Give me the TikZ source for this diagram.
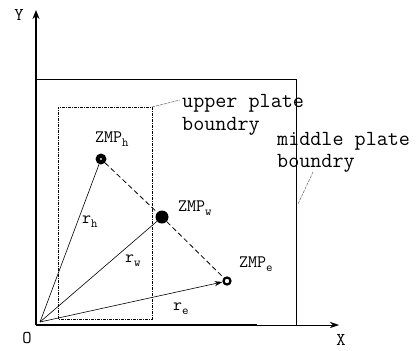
\documentclass[tikz,border=0pt]{standalone}
\usepackage{fontspec}
\usetikzlibrary{arrows.meta}
\newcommand\zsub[1]{\raisebox{-4pt}{\fontsize{12.5}{12.5}\selectfont #1}}
\newcommand\heavytt{\ttfamily\addfontfeatures{FakeBold=0.6}}
\begin{document}
\begin{tikzpicture}[x=1pt,y=-1pt,
  lbl/.style={font=\heavytt\fontsize{21.5}{22}\selectfont, inner sep=0, anchor=base west},
  zmp/.style={font=\heavytt\fontsize{17.5}{18}\selectfont, inner sep=0, anchor=base west},
  axl/.style={font=\heavytt\fontsize{18}{19}\selectfont, inner sep=0},
  axis/.style={line width=1.6pt},
  vec/.style={line width=0.6pt},
  link/.style={line width=0.8pt, dash pattern=on 5pt off 3pt},
  plate/.style={line width=0.8pt},
  uplate/.style={line width=0.6pt, dash pattern=on 3pt off 1pt on 1pt off 1pt},
  leader/.style={line width=0.5pt, black!60, dash pattern=on 3pt off 1pt}]
\fill[white] (0,0) rectangle (418,351);
\useasboundingbox (0,0) rectangle (418,351);
% axes
\coordinate (O) at (36,325);
\coordinate (Yt) at (36,10);
\coordinate (Xm) at (257,325);
\coordinate (Xt) at (339,325);
\draw[axis] (O) -- (Xm);
\draw[line width=0.6pt, -{Stealth[length=9pt,width=6pt]}] (Xm) -- (Xt);
\draw[axis, -{Stealth[length=9pt,width=7pt]}] (O) -- (Yt);
\node[axl] (Ylab) at (19,15) {Y};
\node[axl] (Xlab) at (341,340) {X};
\node[axl] (Olab) at (27,338) {O};
% middle plate
\coordinate (mpTL) at (36,79);
\coordinate (mpTR) at (296,79);
\coordinate (mpBR) at (296,325);
\draw[plate] (mpTL) -- (mpTR) -- (mpBR);
% upper plate
\coordinate (upBL) at (58,319);
\coordinate (upTR) at (152,107);
\draw[uplate] (upBL) rectangle (upTR);
% points
\node[circle, fill=black, inner sep=0, minimum size=11pt] (h) at (101,159) {};
\draw[white, line width=0.4pt] (h.center) circle (0.8pt);
\node[circle, fill=black, inner sep=0, minimum size=13pt] (w) at (162,217) {};
\node[circle, draw=black, fill=white, line width=2.2pt, inner sep=0, minimum size=7pt] (e) at (227,281) {};
% links
\draw[link] (h) -- (w) -- (e);
% vectors
\coordinate (o) at (40,322);
\draw[vec] (o) -- (h);
\draw[vec] (o) -- (w);
\draw[vec, -{Stealth[length=8pt,width=5pt]}] (o) -- (e);
% labels
\node[zmp] (lh) at (95,142) {ZMP\zsub{h}};
\node[zmp] (lw) at (178,211) {ZMP\zsub{w}};
\node[zmp] (le) at (239,267) {ZMP\zsub{e}};
\node[zmp] (rh) at (82,223) {r\zsub{h}};
\node[zmp] (rw) at (125,262) {r\zsub{w}};
\node[zmp] (re) at (173,310) {r\zsub{e}};
% plate texts
\node[lbl] (up1) at (182,107) {upper plate};
\node[lbl] (up2) at (182,130) {boundry};
\node[lbl] (mp1) at (277,145) {middle plate};
\node[lbl] (mp2) at (277,167) {boundry};
% leaders
\coordinate (ule) at (180,100);
\draw[leader] (upTR) -- (ule);
\coordinate (mla) at (313,172);
\coordinate (mlb) at (298,204);
\draw[leader] (mla) -- (mlb);
\end{tikzpicture}
\end{document}
